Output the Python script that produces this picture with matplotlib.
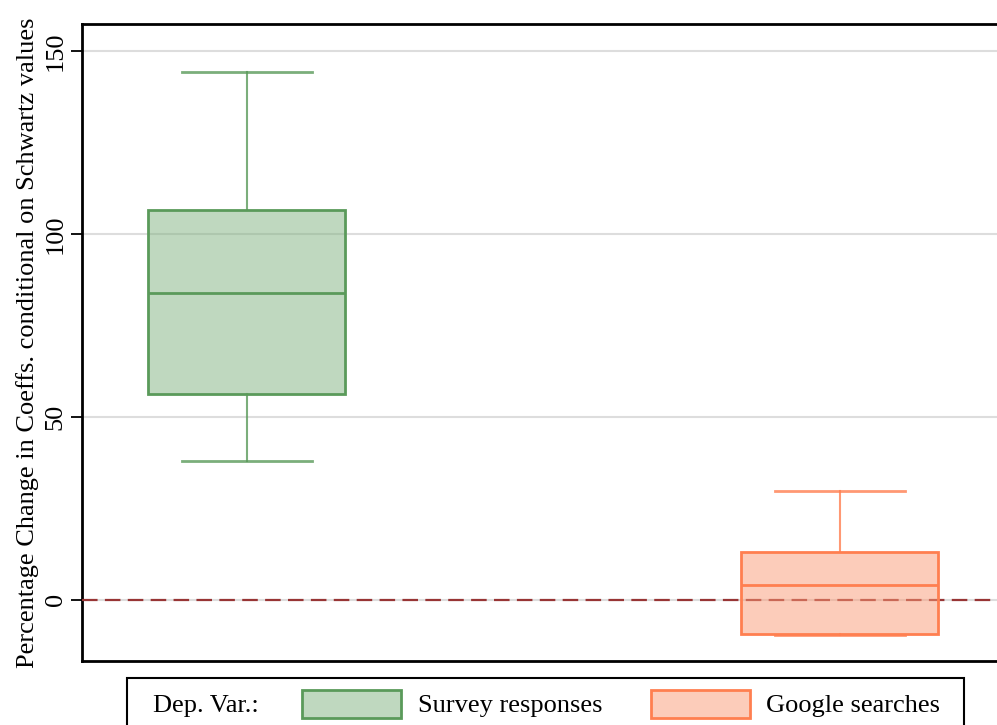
import matplotlib.pyplot as plt
from matplotlib.patches import Rectangle

# values
groups = ["Survey responses", "Google searches"]
whislo = [38.0, -9.6]
q1 = [56.3, -9.3]
med = [83.9, 4.1]
q3 = [106.6, 13.1]
whishi = [144.3, 29.8]
yticks = [0, 50, 100, 150]

face = ["#81b381", "#fb9b77"]   # drawn at alpha 0.5
edge = ["#5a9a5a", "#ff7f50"]

plt.rcParams["font.family"] = ["Liberation Serif", "DejaVu Serif"]
FS = 19

W, H = 997, 725
fig = plt.figure(figsize=(W / 100, H / 100), dpi=100)
ax = fig.add_axes([82 / W, 64 / H, 915 / W, 637 / H])

for i in range(len(groups)):
    stats = [dict(whislo=whislo[i], q1=q1[i], med=med[i], q3=q3[i],
                  whishi=whishi[i], label=groups[i])]
    bp = ax.bxp(stats, positions=[i + 1], widths=0.332, showfliers=False,
                patch_artist=True,
                boxprops=dict(facecolor=face[i], edgecolor=edge[i], linewidth=2),
                medianprops=dict(color=edge[i], linewidth=2),
                whiskerprops=dict(color=edge[i], linewidth=1.5, alpha=0.8),
                capprops=dict(color=edge[i], linewidth=2, alpha=0.8),
                capwidths=0.22)
    for b in bp["boxes"]:
        b.set_facecolor((*plt.matplotlib.colors.to_rgb(face[i]), 0.5))
        b.set_zorder(6)
    for m in bp["medians"]:
        m.set_zorder(7)

ax.axhline(0, color="#983535", linestyle=(0, (7, 3.3)), linewidth=1.6, zorder=5)

ax.set_xlim(0.722, 2.265)
ax.set_ylim(-16.7, 157.4)
ax.set_xticks([])
ax.set_yticks(yticks)
ax.set_yticklabels([str(v) for v in yticks], rotation=90, va="center", fontsize=FS)
ax.tick_params(axis="y", length=8, width=1.3, pad=3)
ax.yaxis.grid(True, color="#dddddd", linewidth=1.5)
ax.set_axisbelow(True)
for s in ["left", "top", "bottom"]:
    ax.spines[s].set_linewidth(2)
ax.spines["right"].set_visible(False)
ax.set_ylabel("Percentage Change in Coeffs. conditional on Schwartz values",
              fontsize=FS, labelpad=4)

# legend drawn by hand (frame runs off the bottom edge like the reference)
def px(x, y):
    return x / W, 1 - y / H

fig.patches.append(Rectangle(px(127, 740), 837 / W, 62 / H, transform=fig.transFigure,
                             facecolor="white", edgecolor="black", linewidth=1.5))
fig.text(*px(153, 706), "Dep. Var.:", fontsize=FS, va="center", ha="left")
patch_x = [302, 651]
text_x = [418, 766]
for i in range(len(groups)):
    fig.patches.append(Rectangle(px(patch_x[i], 718), 99 / W, 28 / H,
                                 transform=fig.transFigure,
                                 facecolor=(*plt.matplotlib.colors.to_rgb(face[i]), 0.5),
                                 edgecolor=edge[i], linewidth=2))
    fig.text(*px(text_x[i], 706), groups[i], fontsize=FS, va="center", ha="left")

fig.savefig("out.png", dpi=100)
